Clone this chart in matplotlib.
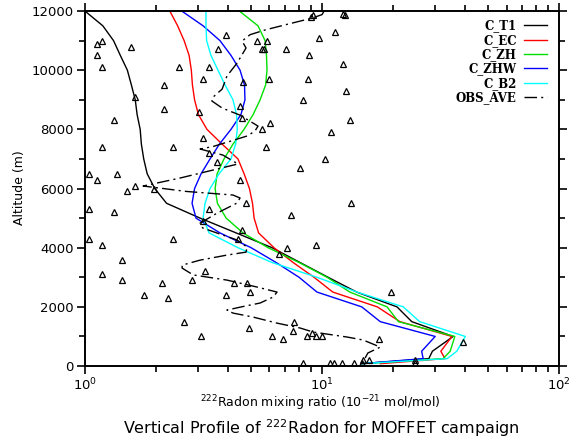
import numpy as np
import matplotlib.pyplot as plt
from matplotlib.ticker import MultipleLocator, LogLocator, NullFormatter


# model levels (m)
alt = [80, 250, 500, 1000, 1500, 2000, 2500, 3000, 3500, 4000, 4500, 5000, 5500,
       6000, 6500, 7000, 7500, 8000, 8500, 9000, 9500, 10000, 10500, 11000, 11500, 12000]

# ----------models---------------------------
c_t1 = [14.7, 28.2, 29.2, 35.7, 23.9, 20.7, 14.0, 10.6, 8.07, 6.15, 4.34, 3.06, 2.21,
        1.97, 1.83, 1.77, 1.73, 1.71, 1.66, 1.63, 1.57, 1.51, 1.41, 1.32, 1.19, 1.0]
c_ec = [17.6, 33.0, 31.7, 35.3, 21.3, 17.1, 11.1, 9.25, 7.55, 6.27, 5.40, 5.17, 5.09,
        4.94, 4.69, 4.42, 3.79, 3.27, 3.01, 2.90, 2.84, 2.81, 2.75, 2.62, 2.46, 2.28]
c_zh = [14.7, 32.4, 34.7, 36.3, 21.0, 18.8, 13.1, 10.5, 8.0, 5.92, 4.64, 3.94, 3.62,
        3.54, 3.61, 3.86, 4.21, 4.69, 5.12, 5.48, 5.78, 5.86, 5.83, 5.75, 5.37, 4.48]
c_zhw = [14.7, 26.7, 26.3, 30.0, 17.6, 14.7, 9.52, 8.0, 6.40, 5.02, 3.71, 2.94, 2.83,
         2.90, 3.09, 3.37, 3.69, 4.13, 4.55, 4.73, 4.71, 4.51, 4.13, 3.71, 3.15, 2.56]
c_b2 = [14.7, 33.7, 37.0, 40.2, 25.8, 22.0, 14.05, 9.52, 6.15, 4.42, 3.34, 3.15, 3.21,
        3.37, 3.68, 4.13, 4.32, 4.39, 4.36, 4.21, 3.90, 3.64, 3.40, 3.26, 3.24, 3.24]

# ----------observations (average)-----------
obs_ave_alt = [12000, 11880, 11760, 11575, 11360, 11200, 10985, 10750, 10240, 9800, 9360,
               9090, 8960, 8720, 8480, 8110, 7940, 7775, 7420, 7335, 7130, 6830, 6625,
               6355, 6085, 5900, 5780, 5680, 5510, 5170, 4830, 4665, 4495, 4260, 4020,
               3850, 3750, 3580, 3410, 3310, 3080, 2905, 2670, 2500, 2330, 2130, 1990,
               1890, 1790, 1655, 1450, 1285, 1150, 980, 880, 640, 440, 100]
obs_ave = [10.2, 10.0, 9.08, 7.33, 5.75, 4.97, 4.60, 4.78, 4.38, 3.97, 3.79,
           3.47, 3.43, 3.79, 4.51, 5.37, 5.21, 4.83, 3.47, 3.06, 3.82, 4.42, 3.47,
           2.52, 1.76, 2.69, 4.21, 4.51, 4.38, 3.61, 3.06, 3.14, 3.61, 4.38, 4.83,
           4.78, 3.97, 3.06, 2.57, 2.57, 2.86, 3.97, 5.32, 6.46, 6.21, 5.48, 4.51,
           3.97, 4.21, 5.12, 6.46, 8.08, 9.16, 12.75, 14.9, 17.6, 15.6, 14.8]

# ----------observations (samples)-----------
obs_x = [1.12, 1.18, 1.12, 1.18, 1.57, 2.49, 3.34, 3.14, 2.15, 1.63, 2.16, 3.02,
         3.94, 3.65, 4.66, 4.51, 4.58, 1.32, 1.18, 2.36, 3.14, 3.35, 3.59, 4.51,
         1.04, 1.12, 1.37, 1.50, 1.63, 1.96, 5.30, 5.88, 5.57, 5.70, 7.03, 5.96,
         5.57, 6.03, 5.79, 9.0, 9.15, 12.3, 12.5, 11.35, 9.74, 8.79, 12.3, 8.71,
         12.6, 8.29, 13.1, 10.9, 10.3, 8.1, 1.04, 1.32, 4.78, 3.35, 7.40, 3.14,
         4.58, 4.43, 7.10, 6.60, 1.04, 1.18, 2.36, 1.44, 1.18, 1.44, 3.20, 2.82,
         2.11, 4.27, 4.84, 4.97, 1.77, 2.23, 3.94, 2.62, 4.91, 7.62, 7.56, 3.08,
         6.15, 6.83, 13.2, 9.43, 8.62, 9.10, 9.43, 10.0, 17.4, 19.6, 39.4,
         8.32, 10.8, 11.2, 12.1, 13.6, 14.7, 14.9, 15.8, 24.7, 24.7]
obs_alt = [10900, 11000, 10500, 10100, 10800, 10100, 10100, 9700, 9500, 9100, 8700, 8600,
           11200, 10700, 9600, 8800, 8400, 8300, 7400, 7400, 7700, 7200, 6900, 6300,
           6500, 6300, 6500, 5900, 6100, 6000, 11000, 11000, 10700, 10700, 10700, 9700,
           8000, 8200, 7400, 11800, 11850, 11900, 11870, 11300, 11100, 10500, 10200, 9700,
           9300, 9000, 8300, 7900, 7000, 6700, 5300, 5200, 5500, 5300, 5100, 4900,
           4600, 4300, 4000, 3800, 4300, 4100, 4300, 3600, 3100, 2900, 3200, 2900,
           2800, 2800, 2800, 2500, 2400, 2300, 2400, 1500, 1300, 1500, 1200, 1000,
           1000, 900, 5500, 4100, 1000, 1100, 1000, 1000, 900, 2500, 800,
           100, 100, 100, 100, 100, 100, 200, 200, 100, 200]


fig = plt.figure(figsize=(5.7, 4.41), dpi=100)
ax = fig.add_axes([0.149, 0.170, 0.832, 0.805])

ax.plot(c_t1, alt, color='black', lw=1, label='C_T1')
ax.plot(c_ec, alt, color='red', lw=1, label='C_EC')
ax.plot(c_zh, alt, color='#00e000', lw=1, label='C_ZH')
ax.plot(c_zhw, alt, color='blue', lw=1, label='C_ZHW')
ax.plot(c_b2, alt, color='cyan', lw=1, label='C_B2')
ax.plot(obs_ave, obs_ave_alt, color='black', lw=1, dashes=(9, 3, 1.5, 3), label='OBS_AVE')
ax.plot(obs_x, obs_alt, ls='none', marker='^', ms=5, mfc='none', mec='black', mew=0.9)

ax.set_xscale('log')
ax.set_xlim(1, 100)
ax.set_ylim(0, 12000)
ax.yaxis.set_major_locator(MultipleLocator(2000))
ax.yaxis.set_minor_locator(MultipleLocator(1000))
ax.xaxis.set_minor_locator(LogLocator(base=10, subs=np.arange(2, 10)))
ax.xaxis.set_minor_formatter(NullFormatter())

ax.tick_params(which='both', direction='out', top=True, right=True, labelsize=9.5, width=1.2)
ax.tick_params(which='major', length=6, pad=2)
ax.tick_params(which='minor', length=4)
for s in ax.spines.values():
    s.set_linewidth(1.4)

leg = ax.legend(loc='upper right', bbox_to_anchor=(0.985, 0.99), frameon=False, markerfirst=False,
                prop=dict(family='DejaVu Serif', weight='bold', size=8.5),
                handlelength=2.0, handletextpad=0.6, labelspacing=0.12, borderaxespad=0)

fig.text(0.035, 0.574, 'Altitude (m)', rotation=90, ha='center', va='center', fontsize=9)
fig.text(0.562, 0.086, '$^{222}$Radon mixing ratio (10$^{-21}$ mol/mol)', ha='center', va='center',
         fontsize=9)
fig.text(0.563, 0.029, 'Vertical Profile of $^{222}$Radon for MOFFET campaign', ha='center',
         va='center', fontsize=11.5)

plt.savefig('out.png', dpi=100)
